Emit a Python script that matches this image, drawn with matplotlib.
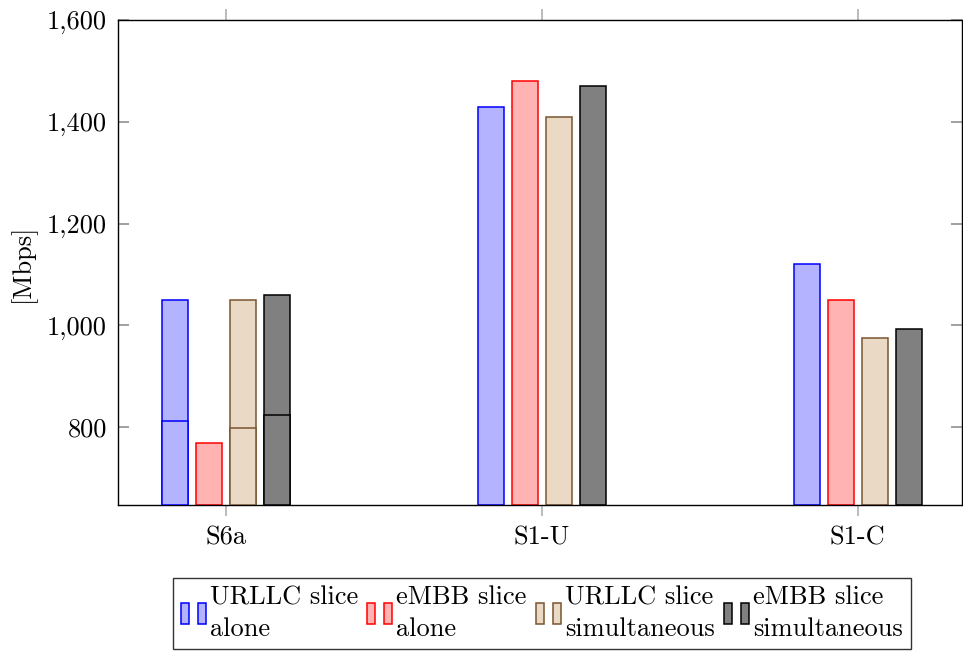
"""
Throughput per interface for URLLC / eMBB slices, grouped bar chart.
"""

import numpy as np
import matplotlib
matplotlib.use("Agg")
import matplotlib.pyplot as plt
from matplotlib.patches import Patch
from matplotlib.legend_handler import HandlerTuple
from matplotlib.ticker import FuncFormatter

interfaces = ["S6a", "S1-U", "S1-C"]
series_names = ["URLLC slice\nalone", "eMBB slice\nalone",
                "URLLC slice\nsimultaneous", "eMBB slice\nsimultaneous"]

# upper values [Mbps]
urllc_alone = [1050, 1430, 1120]
embb_alone = [768, 1480, 1050]
urllc_simult = [1050, 1410, 975]
embb_simult = [1060, 1470, 993]

# second (lower) values, only measured on S6a
urllc_alone_low = [812, np.nan, np.nan]
embb_alone_low = [np.nan, np.nan, np.nan]
urllc_simult_low = [798, np.nan, np.nan]
embb_simult_low = [824, np.nan, np.nan]

upper = [urllc_alone, embb_alone, urllc_simult, embb_simult]
lower = [urllc_alone_low, embb_alone_low, urllc_simult_low, embb_simult_low]

fills = ["#b3b3ff", "#ffb3b3", "#ead9c5", "#808080"]
edges = ["#0000ff", "#ff0000", "#7b5530", "#000000"]

plt.rcParams['font.family'] = ['cmr10', 'DejaVu Serif']
plt.rcParams['font.size'] = 19
plt.rcParams['axes.formatter.use_mathtext'] = True

fig = plt.figure(figsize=(9.63, 6.53), dpi=100)
ax = fig.add_axes([0.1225, 0.2266, 0.8765, 0.7428])

x = np.arange(len(interfaces))
step = 0.1076
width = 0.082
ymin = 647
for i in range(4):
    pos = x + (i - 1.5) * step
    hi = np.array(upper[i], dtype=float)
    lo = np.array(lower[i], dtype=float)
    ax.bar(pos, hi - ymin, width, bottom=ymin, color=fills[i],
           edgecolor=edges[i], linewidth=1.1, zorder=2)
    ax.bar(pos, lo - ymin, width, bottom=ymin, color=fills[i],
           edgecolor=edges[i], linewidth=1.1, zorder=3)

ax.set_xlim(-0.342, 2.33)
ax.set_ylim(ymin, 1600)
ax.set_xticks(x)
ax.set_xticklabels(interfaces)
ax.set_yticks([800, 1000, 1200, 1400, 1600])
ax.yaxis.set_major_formatter(FuncFormatter(lambda v, p: f"{int(v):,}"))
ax.set_ylabel("[Mbps]", labelpad=8)

ax.tick_params(axis='x', direction='out', length=8, width=1.2,
               color='#b0b0b0', top=True, bottom=True, pad=7)
ax.tick_params(axis='y', direction='in', length=8, width=1.2,
               color='#909090', left=True, right=True, pad=8)
for s in ax.spines.values():
    s.set_linewidth(1.0)
    s.set_color('black')

handles = [(Patch(facecolor=fills[i], edgecolor=edges[i], linewidth=1.1),
            Patch(facecolor=fills[i], edgecolor=edges[i], linewidth=1.1))
           for i in range(4)]
leg = ax.legend(handles, series_names, ncol=4, loc='upper center',
                bbox_to_anchor=(0.502, -0.15),
                handler_map={tuple: HandlerTuple(ndivide=None, pad=0.34)},
                handlelength=0.95, handleheight=0.83, handletextpad=0.15,
                columnspacing=0.35, borderpad=0.3, borderaxespad=0,
                fancybox=False, frameon=True, edgecolor='black', fontsize=19)
leg.get_frame().set_linewidth(1.0)
for t in leg.get_texts():
    t.set_linespacing(1.4)

fig.savefig("out.png", dpi=100)
